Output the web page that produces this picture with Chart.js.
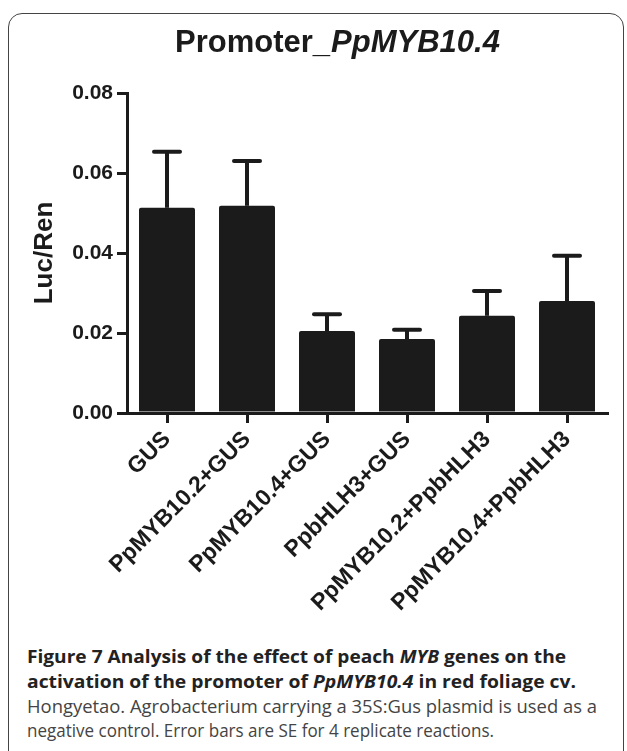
<!DOCTYPE html>
<html>
<head>
<meta charset="utf-8">
<script src="https://cdn.jsdelivr.net/npm/chart.js@4.4.1/dist/chart.umd.min.js"></script>
<style>
    html, body { margin: 0; padding: 0; background: #fff; }
    body { width: 627px; height: 751px; position: relative; overflow: hidden; }
    #frame {
        position: absolute; left: 8px; top: 13px; width: 616px; height: 760px;
        border: 1.5px solid #444; border-radius: 14px; box-sizing: border-box;
    }
    #chart { position: absolute; left: 0; top: 0; }
    .cap {
        position: absolute; left: 27px; white-space: nowrap;
        font-family: "Open Sans", "Noto Sans", sans-serif; font-size: 17.5px;
        line-height: 24px; transform-origin: 0 50%;
    }
    .cap.bold { font-weight: 700; color: #222; }
    .cap.reg { font-weight: 400; color: #444; }
</style>
</head>
<body>
<div id="frame"></div>
<canvas id="chart" width="627" height="640"></canvas>
<div class="cap bold" style="top:644px" data-end="566">Figure 7 Analysis of the effect of peach <i>MYB</i> genes on the</div>
<div class="cap bold" style="top:669px" data-end="576">activation of the promoter of <i>PpMYB10.4</i> in red foliage cv.</div>
<div class="cap reg" style="top:694px" data-end="597">Hongyetao. Agrobacterium carrying a 35S:Gus plasmid is used as a</div>
<div class="cap reg" style="top:718px" data-end="494">negative control. Error bars are SE for 4 replicate reactions.</div>
<script>
(function () {
    const CATEGORIES = ["GUS", "PpMYB10.2+GUS", "PpMYB10.4+GUS", "PpbHLH3+GUS", "PpMYB10.2+PpbHLH3", "PpMYB10.4+PpbHLH3"];
    const MEANS = [0.0513, 0.0518, 0.0205, 0.0185, 0.0243, 0.0280];
    const SE = [0.0140, 0.0112, 0.0042, 0.0023, 0.0062, 0.0113];
    const Y_TICKS = ["0.00", "0.02", "0.04", "0.06", "0.08"];

    var INK = "#1b1b1b",
        FONT = "'Liberation Sans', Arial, Helvetica, sans-serif";

    // upper-only SE bars with a flat cap, Prism style
    var errorBars = {
        id: "errorBars",
        afterDatasetsDraw: function (chart) {
            var ctx = chart.ctx,
                yScale = chart.scales.y,
                meta = chart.getDatasetMeta(0);

            ctx.save();
            ctx.strokeStyle = INK;
            ctx.lineWidth = 4;
            meta.data.forEach(function (bar, i) {
                var top = yScale.getPixelForValue(MEANS[i] + SE[i]);
                ctx.lineCap = "butt";
                ctx.beginPath();
                ctx.moveTo(bar.x, bar.y);
                ctx.lineTo(bar.x, top);
                ctx.stroke();
                ctx.lineCap = "round";
                ctx.beginPath();
                ctx.moveTo(bar.x - 13, top);
                ctx.lineTo(bar.x + 13, top);
                ctx.stroke();
            });
            ctx.restore();
        }
    };

    // title has an italic gene name, so it is drawn by hand
    var mixedTitle = {
        id: "mixedTitle",
        afterDraw: function (chart) {
            var ctx = chart.ctx,
                x = 175,
                y = 52;

            ctx.save();
            ctx.fillStyle = INK;
            ctx.textBaseline = "alphabetic";
            ctx.font = "bold 31px " + FONT;
            ctx.fillText("Promoter_", x, y);
            x += ctx.measureText("Promoter_").width;
            ctx.font = "italic bold 31px " + FONT;
            ctx.fillText("PpMYB10.4", x + 1, y);
            ctx.restore();
        }
    };

    new Chart(document.getElementById("chart"), {
        type: "bar",
        data: {
            labels: CATEGORIES,
            datasets: [{
                data: MEANS,
                backgroundColor: INK,
                borderRadius: 2,
                barPercentage: 0.7,
                categoryPercentage: 1
            }]
        },
        options: {
            responsive: false,
            animation: false,
            events: [],
            layout: { padding: { top: 93, right: 20, left: 0, bottom: 0 } },
            plugins: {
                legend: { display: false },
                tooltip: { enabled: false },
                title: { display: false }
            },
            scales: {
                x: {
                    offset: true,
                    grid: { offset: false, drawOnChartArea: false, tickLength: 10, lineWidth: 3, color: INK },
                    border: { width: 3, color: INK },
                    ticks: {
                        autoSkip: false, minRotation: 45, maxRotation: 45, padding: 3,
                        color: INK, font: { family: FONT, size: 23, weight: "bold" }
                    },
                    afterFit: function (s) { s.height = 640 - 413; }
                },
                y: {
                    min: 0,
                    max: 0.08,
                    ticks: {
                        stepSize: 0.02, padding: 4, color: INK,
                        font: { family: FONT, size: 21, weight: "bold" },
                        callback: function (v, i) { return Y_TICKS[i]; }
                    },
                    grid: { drawOnChartArea: false, tickLength: 10, lineWidth: 3, color: INK },
                    border: { width: 3, color: INK },
                    title: {
                        display: true, text: "Luc/Ren", color: INK,
                        font: { family: FONT, size: 26, weight: "bold" },
                        padding: { top: 29, bottom: 0 }
                    },
                    afterFit: function (s) { s.width = 127; }
                }
            }
        },
        plugins: [errorBars, mixedTitle]
    });

    // squeeze caption lines to the widths in the figure
    document.querySelectorAll(".cap").forEach(function ($line) {
        var target = +$line.dataset.end - 27,
            natural = $line.getBoundingClientRect().width;
        $line.style.transform = "scaleX(" + (target / natural).toFixed(4) + ")";
    });
})();
</script>
</body>
</html>
